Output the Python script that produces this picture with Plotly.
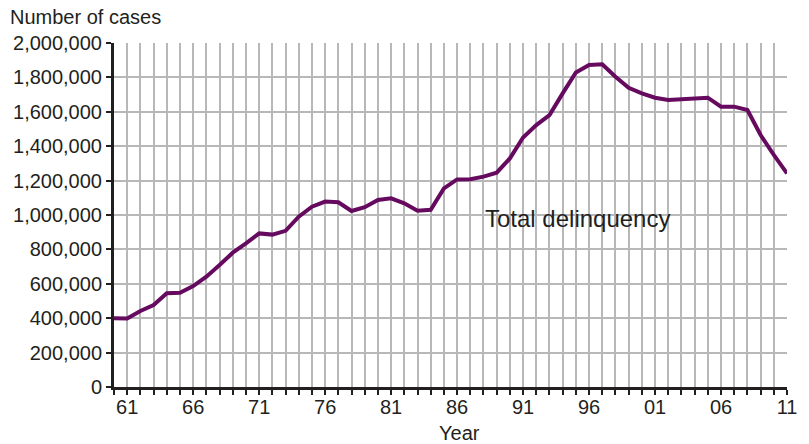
import plotly.graph_objects as go

years = list(range(1960, 2012))
cases = [400000, 398000, 442000, 477000, 545000, 548000, 587000, 641000, 709000, 781000,
         835000, 893000, 886000, 908000, 990000, 1048000, 1078000, 1074000, 1023000, 1045000,
         1087000, 1097000, 1068000, 1025000, 1030000, 1155000, 1207000, 1208000, 1223000, 1246000,
         1329000, 1451000, 1523000, 1581000, 1707000, 1829000, 1872000, 1876000, 1804000, 1739000,
         1707000, 1682000, 1669000, 1674000, 1676000, 1682000, 1630000, 1630000, 1610000, 1465000,
         1349000, 1242000]
tick_years = [1961, 1966, 1971, 1976, 1981, 1986, 1991, 1996, 2001, 2006, 2011]
tick_labels = ["61", "66", "71", "76", "81", "86", "91", "96", "01", "06", "11"]
y_ticks = [0, 200000, 400000, 600000, 800000, 1000000, 1200000, 1400000, 1600000, 1800000, 2000000]
y_labels = ["0", "200,000", "400,000", "600,000", "800,000", "1,000,000", "1,200,000",
            "1,400,000", "1,600,000", "1,800,000", "2,000,000"]
series_name = "Total delinquency"

FONT = "Liberation Sans, Arial, sans-serif"
TXT = "#231f20"
GRID = "#b8b8b8"
FS = 20

fig = go.Figure()
# dummy trace for xaxis2 so its yearly grid shows
fig.add_trace(go.Scatter(x=[1960], y=[None], xaxis="x2", showlegend=False, hoverinfo="skip"))
fig.add_trace(go.Scatter(x=years, y=cases, mode="lines",
                         line=dict(color="#660a60", width=4), name=series_name,
                         showlegend=False, hoverinfo="skip"))

fig.update_layout(
    width=809, height=444,
    margin=dict(l=114, r=22, t=43, b=57, autoexpand=False),
    paper_bgcolor="white", plot_bgcolor="white",
    font=dict(family=FONT, size=FS, color=TXT),
    xaxis=dict(range=[1960, 2011], tickmode="array", tickvals=tick_years, ticktext=tick_labels,
               showgrid=False, zeroline=False, showline=False, ticks="", automargin=False,
               ticklabelstandoff=6, tickfont=dict(size=FS, color=TXT)),
    xaxis2=dict(range=[1960, 2011], overlaying="x", tickmode="linear", tick0=1960, dtick=1,
                showgrid=True, gridcolor=GRID, gridwidth=2, showticklabels=False,
                ticks="outside", ticklen=5, tickwidth=1.5, tickcolor="#231f20",
                showline=True, linecolor="#231f20", linewidth=3, zeroline=False, side="bottom",
                automargin=False, layer="above traces"),
    yaxis=dict(range=[0, 2000000], tickmode="array", tickvals=y_ticks, ticktext=y_labels,
               showgrid=True, gridcolor=GRID, gridwidth=2, zeroline=False,
               showline=True, linecolor="#231f20", linewidth=3, automargin=False,
               ticks="outside", ticklen=5, tickwidth=1.5, tickcolor="#231f20",
               tickfont=dict(size=FS, color=TXT)),
)

fig.add_annotation(xref="paper", yref="paper", x=-(114 - 8) / 673, y=1 + (43 - 17) / 344,
                   text="Number of cases", showarrow=False, xanchor="left", yanchor="middle",
                   font=dict(size=FS, color=TXT))
fig.add_annotation(xref="paper", yref="paper", x=(460 - 114) / 673, y=-(433 - 387) / 344,
                   text="Year", showarrow=False, xanchor="center", yanchor="middle",
                   font=dict(size=FS, color=TXT))
fig.add_annotation(x=1988.0, y=982000, text=series_name, showarrow=False,
                   xanchor="left", yanchor="middle", font=dict(size=24, color=TXT))

fig.write_html("out.html", config={"displayModeBar": False},
               post_script="document.body.style.margin='0';document.body.style.overflow='hidden';")
